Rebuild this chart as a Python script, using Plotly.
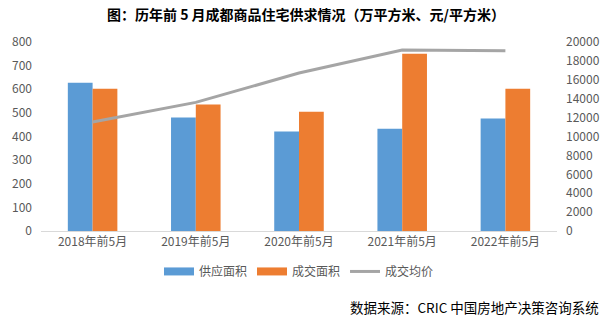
import plotly.graph_objects as go

categories = ["2018年前5月", "2019年前5月", "2020年前5月", "2021年前5月", "2022年前5月"]
supply_area = [628, 480, 421, 433, 476]
deal_area = [602, 535, 505, 750, 602]
deal_price = [11540, 13610, 16720, 19150, 19080]

left_ticks = [0, 100, 200, 300, 400, 500, 600, 700, 800]
right_ticks = [0, 2000, 4000, 6000, 8000, 10000, 12000, 14000, 16000, 18000, 20000]

BLUE = "#5b9bd5"
ORANGE = "#ed7d31"
GREY = "#a5a5a5"
TXT = "#595959"
FONT = "Noto Sans CJK SC"

fig = go.Figure()
fig.add_trace(go.Bar(x=categories, y=supply_area, name="供应面积", marker=dict(color=BLUE, line=dict(width=0)),
                     showlegend=False, yaxis="y"))
fig.add_trace(go.Bar(x=categories, y=deal_area, name="成交面积", marker=dict(color=ORANGE, line=dict(width=0)),
                     showlegend=False, yaxis="y"))
fig.add_trace(go.Scatter(x=categories, y=deal_price, name="成交均价", mode="lines",
                         line=dict(color=GREY, width=3), showlegend=False, yaxis="y2"))

# legend entries
for nm, col in [("供应面积", BLUE), ("成交面积", ORANGE), ("成交均价", GREY)]:
    fig.add_trace(go.Scatter(x=[None], y=[None], name=nm, mode="lines",
                             line=dict(color=col, width=8 if col != GREY else 3), yaxis="y"))

fig.update_layout(
    width=612, height=322,
    margin=dict(l=35, r=54, t=42, b=91),
    paper_bgcolor="white", plot_bgcolor="white",
    barmode="group", bargap=0.52, bargroupgap=0,
    font=dict(family=FONT, size=12, color=TXT),
    title=dict(text="<b>图：历年前 5 月成都商品住宅供求情况（万平方米、元/平方米）</b>",
               x=0.5, xanchor="center", y=1 - 15 / 322, yanchor="middle",
               font=dict(family=FONT, size=14, color="#000000")),
    xaxis=dict(showgrid=False, showline=True, linecolor="#d9d9d9", linewidth=1,
               ticks="", tickfont=dict(size=12, color=TXT)),
    yaxis=dict(range=[0, 800], tickvals=left_ticks, showgrid=False, zeroline=False,
               showline=False, ticks="", ticklabelstandoff=8, tickfont=dict(size=12, color=TXT)),
    yaxis2=dict(range=[0, 20000], tickvals=right_ticks, ticktext=[str(v) for v in right_ticks],
                overlaying="y", side="right",
                showgrid=False, zeroline=False, showline=False, ticks="",
                ticklabelstandoff=8, tickfont=dict(size=12, color=TXT)),
    legend=dict(orientation="h", x=0.5, xanchor="center", y=-0.214, yanchor="middle",
                font=dict(size=12, color=TXT), itemwidth=30, tracegroupgap=0),
    annotations=[dict(text="数据来源：CRIC 中国房地产决策咨询系统", xref="paper", yref="paper",
                      x=(603 - 35) / (612 - 35 - 54), xanchor="right",
                      y=-(307 - 231) / (322 - 42 - 91), yanchor="middle", showarrow=False,
                      font=dict(family=FONT, size=13.5, color="#000000"))],
)

fig.write_html("out.html")
